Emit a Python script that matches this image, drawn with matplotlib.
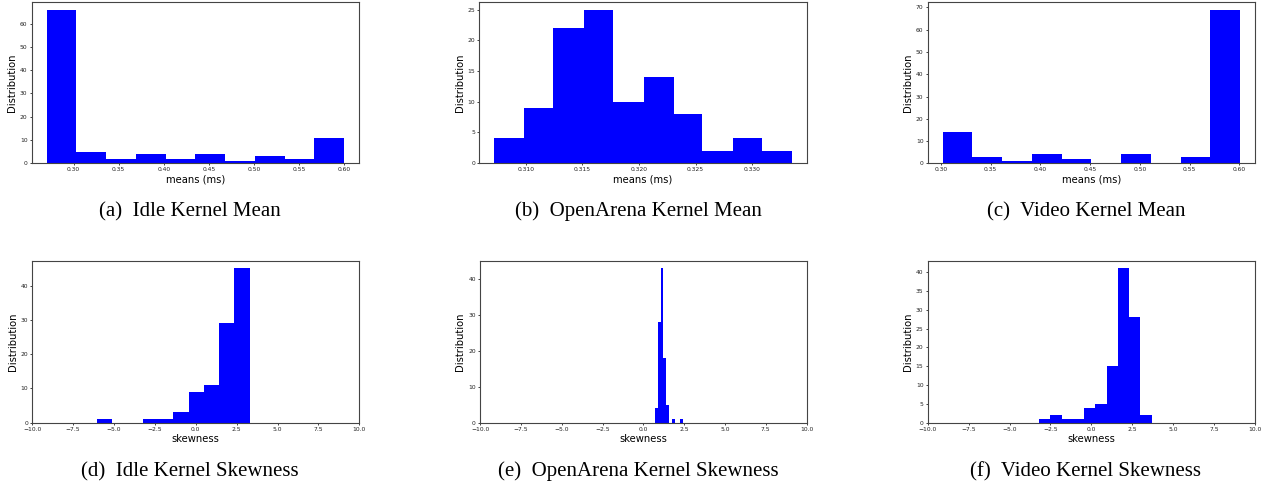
#!/usr/bin/env python3
"""Kernel mean / skewness histograms for Idle, OpenArena and Video workloads."""

import matplotlib
matplotlib.use("Agg")
import matplotlib.pyplot as plt
from matplotlib.ticker import FormatStrFormatter, MultipleLocator

# Bin edges and counts (10 bins each, 100 samples)
idle_mean_edges = [0.270, 0.303, 0.336, 0.369, 0.402, 0.435, 0.468, 0.501, 0.534, 0.567, 0.600]
idle_mean_counts = [66, 5, 2, 4, 2, 4, 1, 3, 2, 11]

arena_mean_edges = [0.3072, 0.3098, 0.3124, 0.3151, 0.3177, 0.3204, 0.3231, 0.3256, 0.3283, 0.3309, 0.3335]
arena_mean_counts = [4, 9, 22, 25, 10, 14, 8, 2, 4, 2]

video_mean_edges = [0.3017, 0.3316, 0.3615, 0.3914, 0.4213, 0.4512, 0.4811, 0.5110, 0.5409, 0.5708, 0.6007]
video_mean_counts = [14, 3, 1, 4, 2, 0, 4, 0, 3, 69]

idle_skew_edges = [-6.04, -5.107, -4.174, -3.241, -2.308, -1.375, -0.442, 0.491, 1.424, 2.357, 3.29]
idle_skew_counts = [1, 0, 0, 1, 1, 3, 9, 11, 29, 45]

arena_skew_edges = [0.714, 0.886, 1.057, 1.229, 1.400, 1.572, 1.744, 1.915, 2.087, 2.258, 2.430]
arena_skew_counts = [4, 28, 43, 18, 5, 0, 1, 0, 0, 1]

video_skew_edges = [-3.20, -2.51, -1.82, -1.13, -0.44, 0.25, 0.93, 1.62, 2.31, 3.00, 3.69]
video_skew_counts = [1, 2, 1, 1, 4, 5, 15, 41, 28, 2]

captions = [
    "(a)  Idle Kernel Mean", "(b)  OpenArena Kernel Mean", "(c)  Video Kernel Mean",
    "(d)  Idle Kernel Skewness", "(e)  OpenArena Kernel Skewness", "(f)  Video Kernel Skewness",
]

W, H = 1271, 486
fig = plt.figure(figsize=(W / 100, H / 100), dpi=100)


def add_axes(left, top, right, bottom):
    return fig.add_axes([left / W, 1 - bottom / H, (right - left) / W, (bottom - top) / H])


def draw_hist(ax, edges, counts, xlabel, ystep):
    ax.hist(edges[:-1], bins=edges, weights=counts, color="#0000ff")
    ax.set_xlabel(xlabel, fontsize=7.2, labelpad=1.5)
    ax.set_ylabel("Distribution", fontsize=7.2, labelpad=2)
    ax.yaxis.set_major_locator(MultipleLocator(ystep))
    ax.tick_params(labelsize=4.3, length=1.5, width=0.6, pad=1.5, colors="#222222")
    for sp in ax.spines.values():
        sp.set_linewidth(0.8)
        sp.set_color("#444444")


panels = [
    (add_axes(31.7, 2, 359, 163.3), idle_mean_edges, idle_mean_counts, "means (ms)", 10),
    (add_axes(479.3, 2, 806.7, 163), arena_mean_edges, arena_mean_counts, "means (ms)", 5),
    (add_axes(927.7, 2, 1255, 163.3), video_mean_edges, video_mean_counts, "means (ms)", 10),
    (add_axes(32.3, 260.7, 359.3, 422.7), idle_skew_edges, idle_skew_counts, "skewness", 10),
    (add_axes(480, 260.7, 806.7, 422.7), arena_skew_edges, arena_skew_counts, "skewness", 10),
    (add_axes(927.7, 260.7, 1255, 422.7), video_skew_edges, video_skew_counts, "skewness", 5),
]

for ax, edges, counts, xlabel, ystep in panels:
    draw_hist(ax, edges, counts, xlabel, ystep)

# top row: mean histograms
panels[0][0].set_xticks([0.30, 0.35, 0.40, 0.45, 0.50, 0.55, 0.60])
panels[0][0].xaxis.set_major_formatter(FormatStrFormatter("%.2f"))
panels[1][0].set_xticks([0.310, 0.315, 0.320, 0.325, 0.330])
panels[1][0].xaxis.set_major_formatter(FormatStrFormatter("%.3f"))
panels[2][0].set_xticks([0.30, 0.35, 0.40, 0.45, 0.50, 0.55, 0.60])
panels[2][0].xaxis.set_major_formatter(FormatStrFormatter("%.2f"))

# bottom row: skewness histograms on a fixed range
for ax, *_ in panels[3:]:
    ax.set_xlim(-10, 10)
    ax.set_xticks([-10, -7.5, -5, -2.5, 0, 2.5, 5, 7.5, 10])

cap_x = [190, 638, 1086]
cap_y = [211.5, 471.5]
for i, cap in enumerate(captions):
    fig.text(cap_x[i % 3] / W, 1 - cap_y[i // 3] / H, cap, ha="center", va="center",
             fontsize=15, family="Liberation Serif")

fig.savefig("out.png", dpi=100)
